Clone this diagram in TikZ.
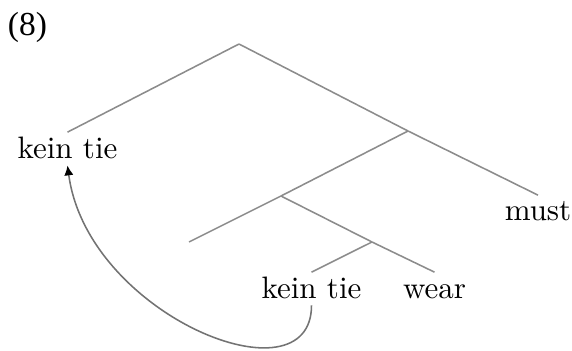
\documentclass[tikz,border=0pt]{standalone}
\usepackage{fontspec}
\newfontfamily\numfont{Liberation Serif}
\usetikzlibrary{arrows.meta}
\begin{document}
\begin{tikzpicture}[x=0.3226pt,y=-0.3226pt,
  branch/.style={draw=black!45,line width=0.5pt},
  leaf/.style={anchor=base,inner xsep=0pt,inner ysep=1.2pt,text height=6.94pt,text depth=1pt,font=\fontsize{10}{12}\selectfont},
  move/.style={draw=black!55,line width=0.5pt,-{Latex[length=3.2pt,width=3pt,color=black]}}]
\useasboundingbox (0,0) rectangle (572,351);
\node[font=\numfont\fontsize{10.8}{13}\selectfont,inner sep=0pt] (num) at (27.5,27.5) {(8)};
% internal points
\coordinate (R) at (239,44);
\coordinate (X) at (408,131);
\coordinate (Y) at (281,196);
\coordinate (Z) at (372,242);
\coordinate (E) at (189,242);
% leaves
\node[leaf] (k1) at (67.5,158) {kein tie};
\node[leaf] (must) at (538,221) {must};
\node[leaf] (k2) at (311.5,298) {kein tie};
\node[leaf] (wear) at (434.5,298) {wear};
% branches
\draw[branch] (R) -- (k1.north);
\draw[branch] (R) -- (X) -- (must.north);
\draw[branch] (X) -- (Y) -- (E);
\draw[branch] (Y) -- (Z) -- (wear.north);
\draw[branch] (Z) -- (k2.north);
% movement arrow
\draw[move] (k2.south) .. controls +(0,100) and +(20,150) .. (k1.south);
\end{tikzpicture}
\end{document}
